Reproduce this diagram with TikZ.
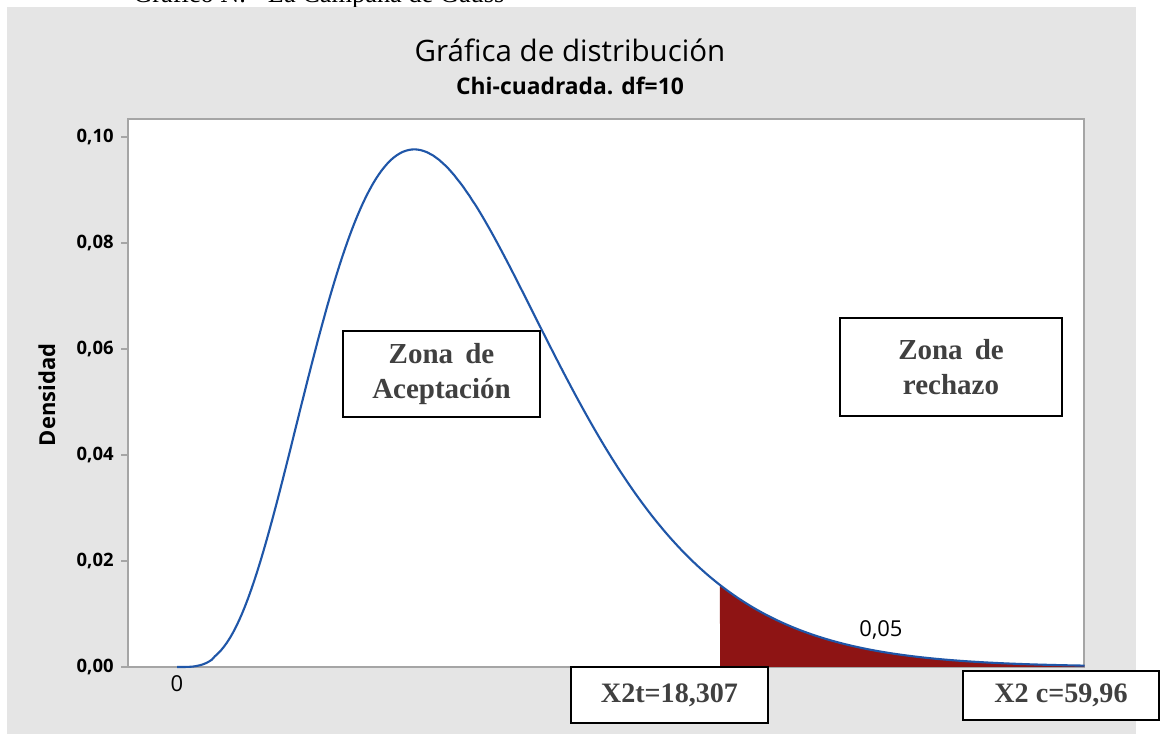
\documentclass[tikz,border=0pt]{standalone}
\usepackage{fontspec}
\setmainfont{Liberation Serif}
\setsansfont{Open Sans}
\usepackage{tikz}
\definecolor{fondo}{RGB}{229,229,229}
\definecolor{marco}{RGB}{165,165,165}
\definecolor{curva}{RGB}{31,86,168}
\definecolor{rojo}{RGB}{142,20,20}
\definecolor{letra}{RGB}{64,64,64}

\begin{document}
\begin{tikzpicture}[x=0.02cm,y=0.02cm,
  eje/.style={font=\sffamily\bfseries\fontsize{10.5}{12}\selectfont,inner sep=0pt},
  zona/.style={draw=black,line width=1.1pt,fill=white,text=letra,align=center,
    font=\bfseries\fontsize{16.5}{19.5}\selectfont,inner sep=0pt},
  valor/.style={zona,font=\bfseries\fontsize{16}{19}\selectfont}]
\useasboundingbox (0,0) rectangle (1160,734);
%\node {\includegraphics{grafica.png}};
\begin{scope}
\clip (0,727) rectangle (1160,734);
\node[anchor=base west,inner sep=0pt,font=\fontsize{15}{17}\selectfont] (caption) at (133,731) {Gráfico N. - La Campana de Gauss};
\end{scope}
\fill[fondo] (7,0) rectangle (1136,727);
\draw[marco,fill=white,line width=0.9pt] (128,67) rectangle (1084,615);
% tail
\fill[rojo] (720,67) -- plot[domain=18.307:30.6,samples=80]
  ({177+29.66*\x},{67+exp(11.142+4*ln(\x/10)-\x/2)}) -- (1084,67) -- cycle;
\draw[curva,line width=1.2pt] (177,67) -- plot[domain=0.05:30.6,samples=300]
  ({177+29.66*\x},{67+exp(11.142+4*ln(\x/10)-\x/2)});
\foreach \k/\lab in {0/00,1/02,2/04,3/06,4/08,5/10}{
  \draw[marco,line width=0.9pt] (121,{67+106*\k}) -- (128,{67+106*\k});
  \node[eje,anchor=east] (y\lab) at (114,{67+106*\k}) {0,\lab};
}
\node[eje,rotate=90,font=\sffamily\bfseries\fontsize{12.5}{14}\selectfont] (densidad) at (47,339) {Densidad};
\node[font=\sffamily\fontsize{12.5}{14}\selectfont,inner sep=0pt] (cero) at (177,50) {0};
\node[font=\sffamily\fontsize{12.5}{14}\selectfont,inner sep=0pt] (area) at (881,104) {0,05};
\node[font=\sffamily\fontsize{16.8}{19}\selectfont,inner sep=0pt] (titulo) at (570,684) {Gráfica de distribución};
\node[font=\sffamily\bfseries\fontsize{13}{15}\selectfont,inner sep=0pt] (subtitulo) at (570,648) {Chi-cuadrada. df=10};
\node[zona,minimum width=3.94cm,minimum height=1.72cm] (aceptacion) at (441.5,360) {Zona\, de\\Aceptación};
\node[zona,minimum width=4.44cm,minimum height=1.96cm] (rechazo) at (951,367) {Zona\, de\\rechazo};
\node[valor,minimum width=3.94cm,minimum height=1.12cm] (tabla) at (669.5,39) {X2t=18,307};
\node[valor,minimum width=3.92cm,minimum height=0.98cm] (calculado) at (1061,38.5) {X2 c=59,96};
\end{tikzpicture}
\end{document}
